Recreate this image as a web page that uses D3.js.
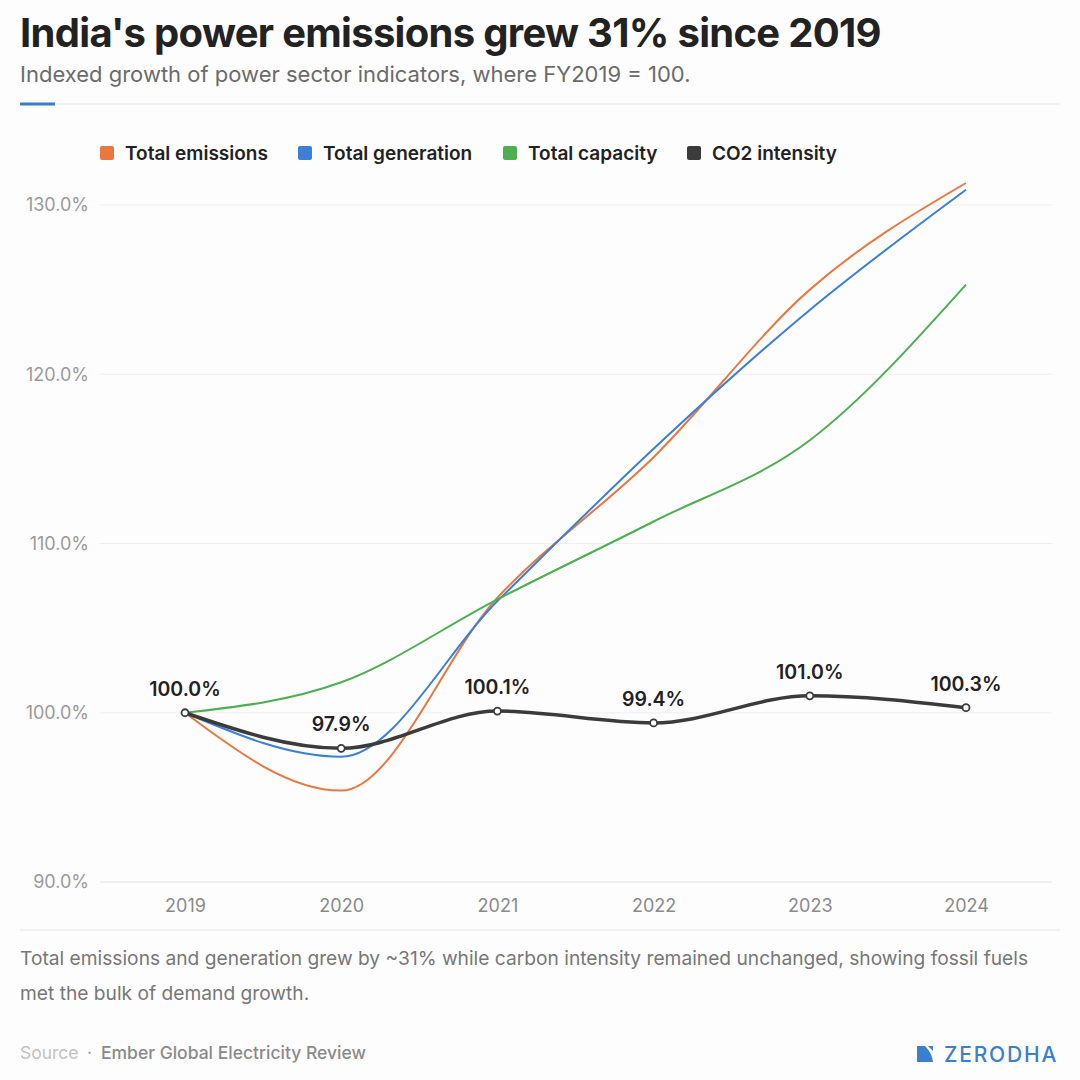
<!DOCTYPE html>
<html>
<head>
<meta charset="utf-8">
<script src="https://cdn.jsdelivr.net/npm/d3@7"></script>
<style>
  html, body { margin: 0; padding: 0; background: #fdfdfd; }
  svg { display: block; font-family: Inter, "Noto Sans", sans-serif; }
</style>
</head>
<body>
<div id="chart"></div>
<script>
// ── Data ─────────────────────────────────────────────────────────
const years = ['2019', '2020', '2021', '2022', '2023', '2024'];
const emissions = [100, 95.4, 106.8, 115.1, 125.0, 131.3];
const generation = [100, 97.4, 106.6, 115.6, 123.8, 130.9];
const capacity = [100, 101.8, 106.7, 111.3, 116.1, 125.3];
const intensity = [100, 97.9, 100.1, 99.4, 101.0, 100.3];
const yTicks = [90, 100, 110, 120, 130];

const seriesNames = ['Total emissions', 'Total generation', 'Total capacity', 'CO2 intensity'];
const seriesColors = ['#ea773f', '#3b7fd6', '#4caf50', '#3b3b3b'];
const seriesValues = [emissions, generation, capacity, intensity];

const W = 1080, H = 1080;
const margin = { top: 206, right: 28, bottom: 198, left: 100 };

const svg = d3.select('#chart').append('svg')
  .attr('width', W)
  .attr('height', H);

svg.append('rect').attr('width', W).attr('height', H).attr('fill', '#fdfdfd');

// ── Header ───────────────────────────────────────────────────────
svg.append('text')
  .attr('x', 20).attr('y', 47)
  .attr('font-size', 40).attr('font-weight', 700)
  .attr('fill', '#222')
  .attr('letter-spacing', -0.7)
  .text("India's power emissions grew 31% since 2019");

svg.append('text')
  .attr('x', 20).attr('y', 82)
  .attr('font-size', 22)
  .attr('fill', '#6b6b6b')
  .text('Indexed growth of power sector indicators, where FY2019 = 100.');

svg.append('line')
  .attr('x1', 20).attr('x2', 1060).attr('y1', 104).attr('y2', 104)
  .attr('stroke', '#e9e9e9').attr('stroke-width', 1);
svg.append('line')
  .attr('x1', 20).attr('x2', 55).attr('y1', 104).attr('y2', 104)
  .attr('stroke', '#3d7cc9').attr('stroke-width', 3);

// ── Legend ───────────────────────────────────────────────────────
const legendX = [100, 298, 503, 687];
const legend = svg.append('g');
seriesNames.forEach((name, i) => {
  const g = legend.append('g').attr('transform', `translate(${legendX[i]},153)`);
  g.append('rect')
    .attr('x', 0).attr('y', -7).attr('width', 14).attr('height', 14)
    .attr('rx', 2).attr('fill', seriesColors[i]);
  g.append('text')
    .attr('x', 25).attr('y', 7)
    .attr('font-size', 19).attr('font-weight', 600)
    .attr('fill', '#222')
    .text(name);
});

// ── Scales ───────────────────────────────────────────────────────
const x = d3.scalePoint()
  .domain(years)
  .range([185, 966]);

const y = d3.scaleLinear()
  .domain([90, 130])
  .range([882, 205]);

// gridlines
svg.append('g')
  .selectAll('line')
  .data(yTicks)
  .enter()
  .append('line')
  .attr('x1', margin.left).attr('x2', 1052)
  .attr('y1', d => y(d)).attr('y2', d => y(d))
  .attr('stroke', d => d === 90 ? '#e2e2e2' : '#f0f0f0')
  .attr('stroke-width', 1);

// y axis
const yAxis = svg.append('g')
  .attr('transform', `translate(89,0)`)
  .call(d3.axisLeft(y).tickValues(yTicks).tickSize(0).tickPadding(0).tickFormat(d => d3.format('.1f')(d) + '%'));
yAxis.select('.domain').remove();
yAxis.selectAll('text')
  .attr('font-family', 'Inter, sans-serif')
  .attr('font-size', 18)
  .attr('fill', '#9a9a9a');

// x axis
const xAxis = svg.append('g')
  .attr('transform', `translate(0,${y(90)})`)
  .call(d3.axisBottom(x).tickSize(0).tickPadding(17));
xAxis.select('.domain').remove();
xAxis.selectAll('text')
  .attr('font-family', 'Inter, sans-serif')
  .attr('font-size', 18)
  .attr('fill', '#8a8a8a');

// ── Lines ────────────────────────────────────────────────────────
const line = d3.line()
  .x((d, i) => x(years[i]))
  .y(d => y(d))
  .curve(d3.curveMonotoneX);

[0, 1, 2].forEach(i => {
  svg.append('path')
    .datum(seriesValues[i])
    .attr('d', line)
    .attr('fill', 'none')
    .attr('stroke', seriesColors[i])
    .attr('stroke-width', 2);
});

svg.append('path')
  .datum(intensity)
  .attr('d', line)
  .attr('fill', 'none')
  .attr('stroke', seriesColors[3])
  .attr('stroke-width', 3.5);

svg.append('g')
  .selectAll('circle')
  .data(intensity)
  .enter()
  .append('circle')
  .attr('cx', (d, i) => x(years[i]))
  .attr('cy', d => y(d))
  .attr('r', 3.5)
  .attr('fill', '#fff')
  .attr('stroke', seriesColors[3])
  .attr('stroke-width', 1.8);

svg.append('g')
  .selectAll('text')
  .data(intensity)
  .enter()
  .append('text')
  .attr('x', (d, i) => x(years[i]))
  .attr('y', d => y(d) - 17)
  .attr('text-anchor', 'middle')
  .attr('font-size', 19.5).attr('font-weight', 600)
  .attr('fill', '#222')
  .text(d => d3.format('.1f')(d) + '%');

// ── Footer ───────────────────────────────────────────────────────
svg.append('line')
  .attr('x1', 20).attr('x2', 1060).attr('y1', 930).attr('y2', 930)
  .attr('stroke', '#e6e6e6').attr('stroke-width', 1);

const note = svg.append('text')
  .attr('font-size', 19.2)
  .attr('fill', '#777');
note.append('tspan').attr('x', 20).attr('y', 965)
  .text('Total emissions and generation grew by ~31% while carbon intensity remained unchanged, showing fossil fuels');
note.append('tspan').attr('x', 20).attr('y', 1000)
  .text('met the bulk of demand growth.');

const src = svg.append('text')
  .attr('y', 1059)
  .attr('font-size', 17.5);
src.append('tspan').attr('x', 20).attr('fill', '#c2c2c2').text('Source');
src.append('tspan').attr('x', 87).attr('fill', '#999').text('·');
src.append('tspan').attr('x', 101).attr('fill', '#8a8a8a').attr('font-weight', 500).text('Ember Global Electricity Review');

// logo
const logo = svg.append('g').attr('transform', 'translate(917,1046)').attr('fill', '#3a7fd0');
logo.append('path').attr('d', 'M0,0 L8,0 Q15,7 16,16 L0,16 Z');
logo.append('path').attr('d', 'M11,0 L16,0 L16,5 Z');
svg.append('text')
  .attr('x', 944).attr('y', 1062)
  .attr('font-size', 21).attr('font-weight', 500)
  .attr('letter-spacing', 1.8)
  .attr('fill', '#3a7fd0')
  .text('ZERODHA');
</script>
</body>
</html>
